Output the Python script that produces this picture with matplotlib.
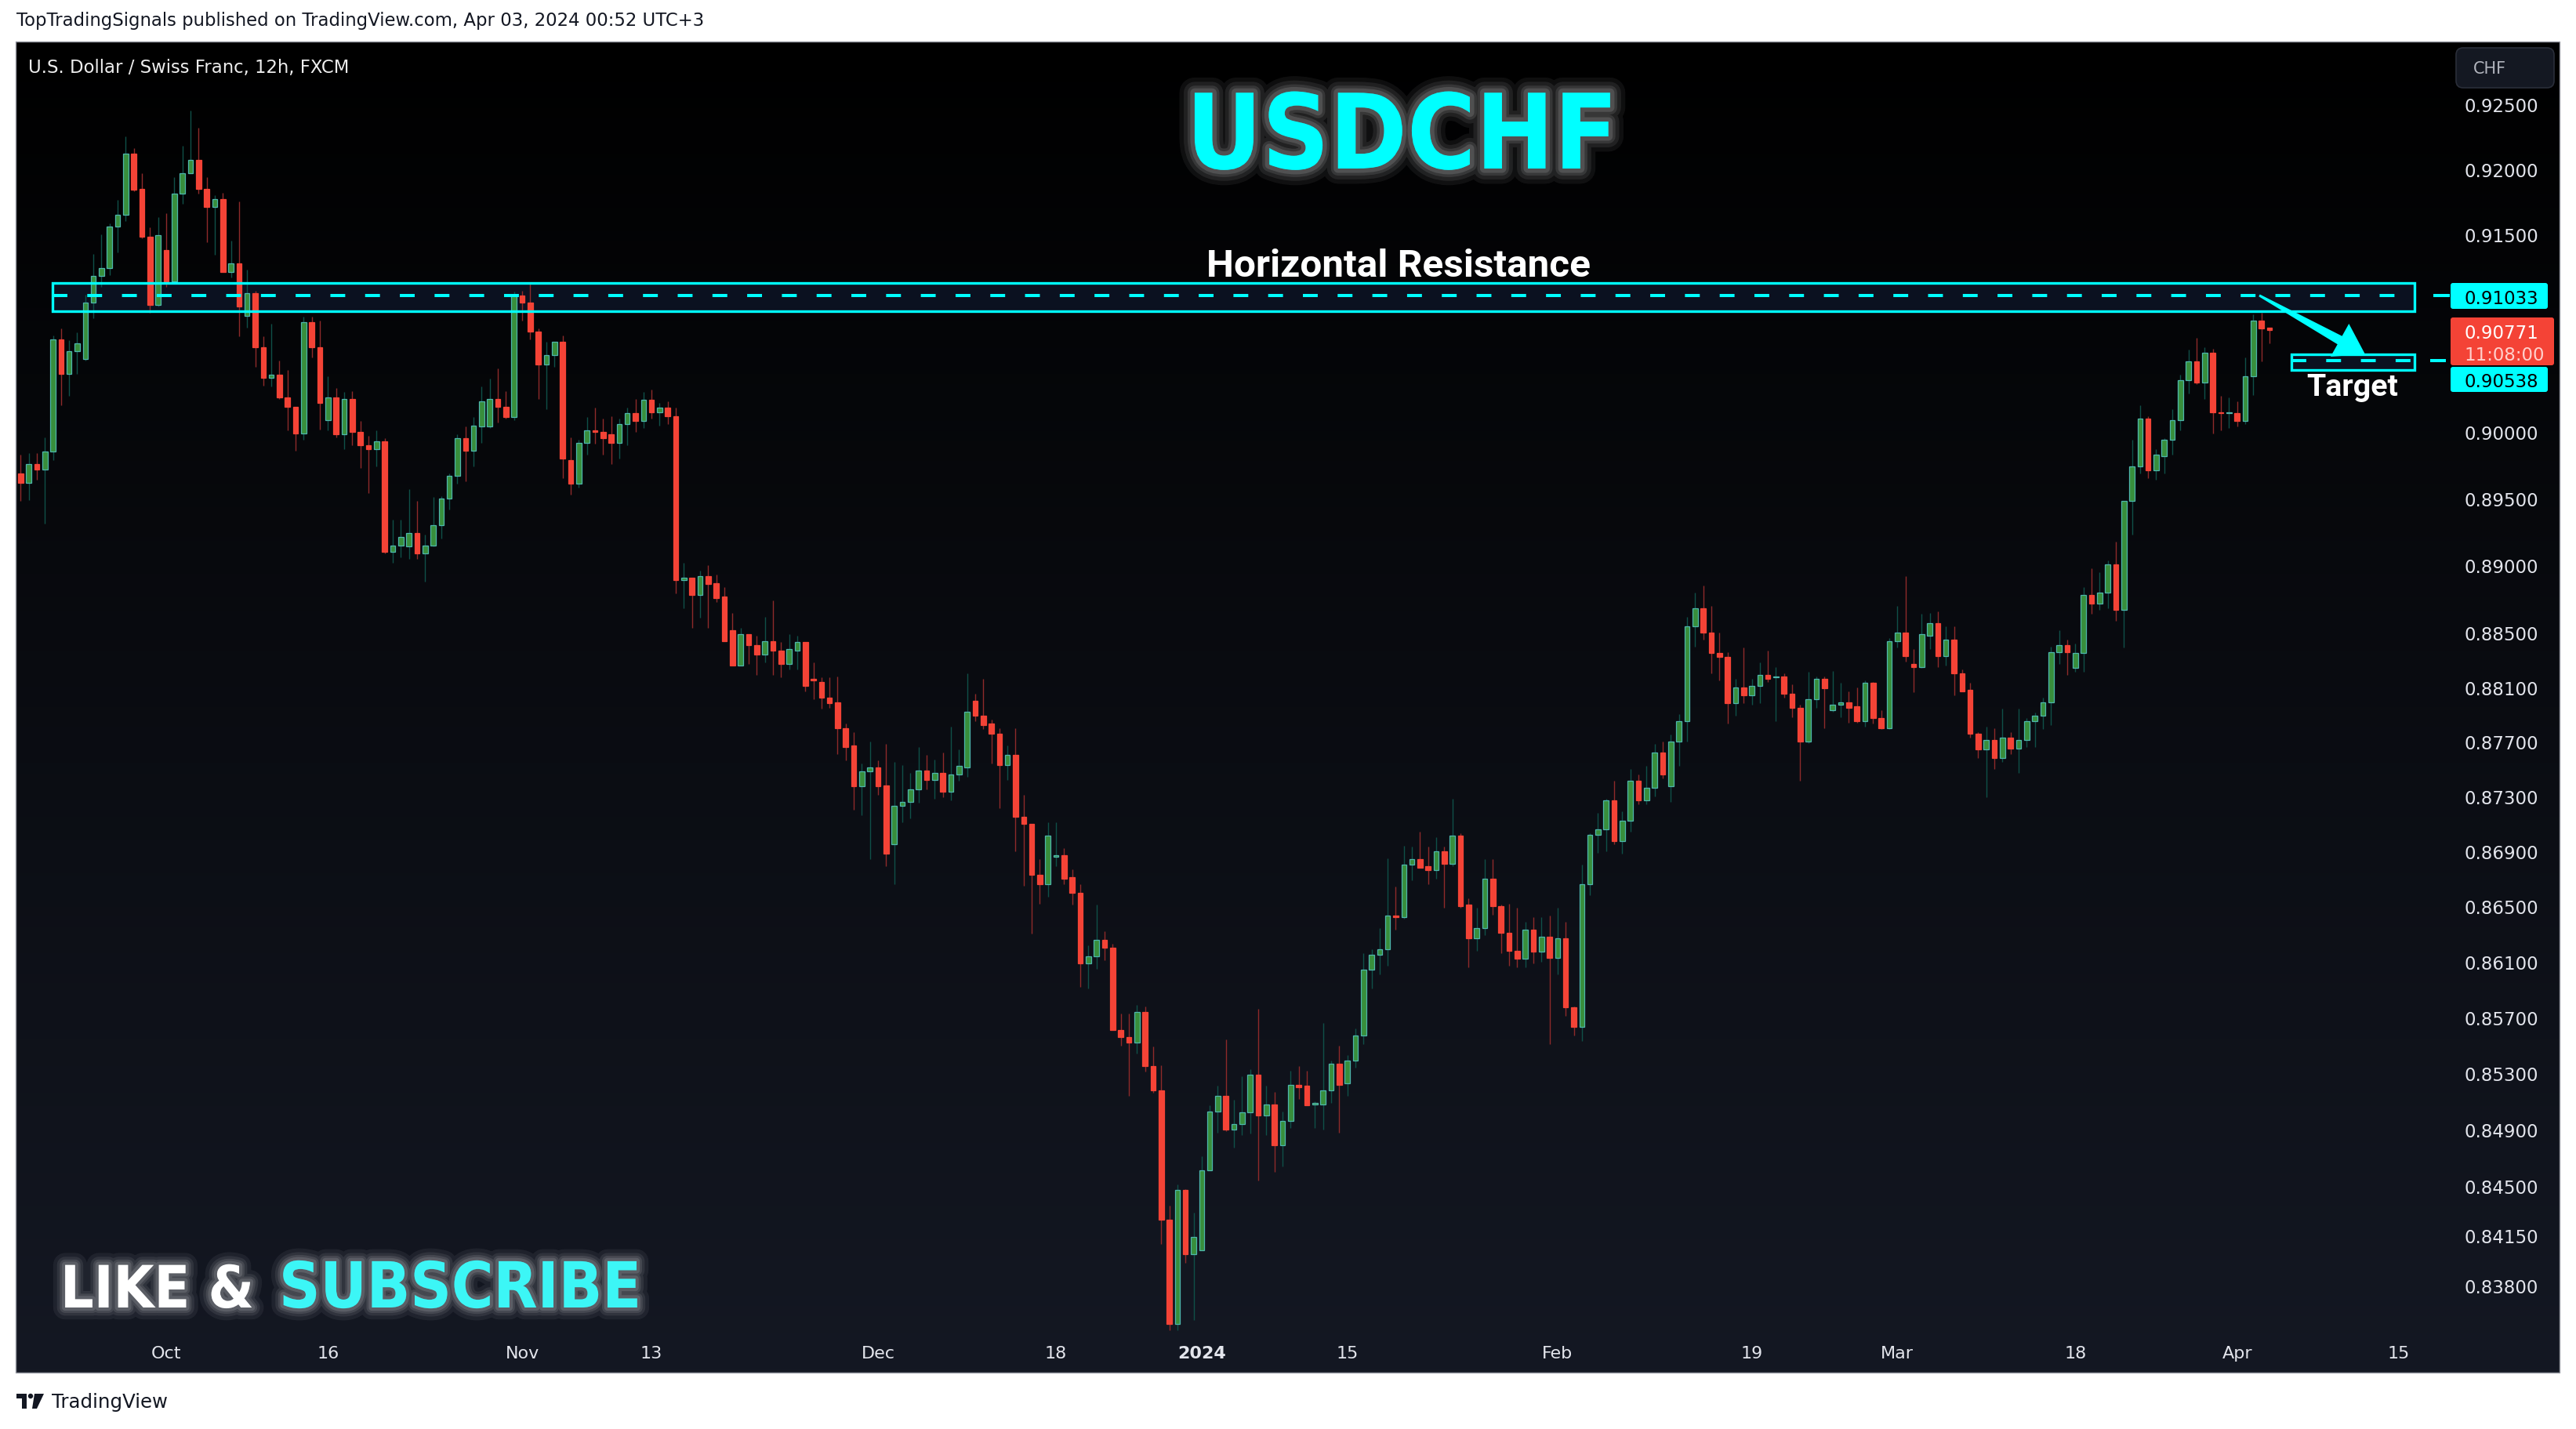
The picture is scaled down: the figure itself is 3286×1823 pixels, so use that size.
"""USDCHF 12h chart (TradingView style) with resistance zone, target and glow titles."""

import numpy as np
import pandas as pd
import matplotlib
matplotlib.use("Agg")
import matplotlib.pyplot as plt
import matplotlib.patheffects as pe
from matplotlib import font_manager
from matplotlib.font_manager import FontProperties
from matplotlib.patches import Rectangle, FancyBboxPatch, Polygon, Circle
from matplotlib.transforms import IdentityTransform, blended_transform_factory

W, H = 3286, 1824

# ── OHLC, 12h bars from 2023-09-19 to 2024-04-03 ──
opens = [
    .8969, .8962, .8976, .8972, .8985, .9070, .9044, .9061, .9055, .9098,
    .9118, .9124, .9156, .9165, .9212, .9185, .9148, .9096, .9138, .9114,
    .9181, .9197, .9207, .9185, .9171, .9177, .9121, .9128, .9088, .9105,
    .9064, .9041, .9043, .9026, .9019, .8999, .9083, .9064, .9009, .9026,
    .8998, .9025, .9000, .8990, .8987, .8993, .8910, .8915, .8914, .8924,
    .8909, .8915, .8930, .8950, .8967, .8995, .8986, .9004, .9004, .9025,
    .9019, .9011, .9103, .9098, .9076, .9051, .9058, .9068, .8979, .8961,
    .8992, .9001, .9000, .8998, .8992, .9006, .9014, .9008, .9024, .9015,
    .9018, .9012, .8889, .8891, .8878, .8892, .8887, .8877, .8852, .8826,
    .8849, .8841, .8834, .8844, .8837, .8827, .8837, .8843, .8816, .8814,
    .8802, .8799, .8780, .8767, .8737, .8748, .8751, .8738, .8695, .8723,
    .8726, .8735, .8749, .8742, .8747, .8733, .8746, .8751, .8800, .8789,
    .8783, .8776, .8753, .8760, .8715, .8710, .8673, .8666, .8686, .8687,
    .8671, .8660, .8609, .8614, .8626, .8620, .8561, .8556, .8552, .8574,
    .8535, .8518, .8426, .8353, .8447, .8402, .8405, .8461, .8503, .8514,
    .8490, .8494, .8502, .8529, .8500, .8508, .8479, .8496, .8522, .8521,
    .8508, .8508, .8518, .8537, .8523, .8539, .8557, .8604, .8615, .8619,
    .8643, .8642, .8680, .8684, .8679, .8676, .8690, .8681, .8701, .8651,
    .8627, .8634, .8670, .8650, .8631, .8618, .8612, .8633, .8617, .8628,
    .8613, .8627, .8577, .8563, .8666, .8702, .8706, .8727, .8697, .8712,
    .8741, .8727, .8736, .8762, .8737, .8770, .8785, .8855, .8868, .8850,
    .8835, .8832, .8798, .8810, .8804, .8811, .8819, .8817, .8818, .8805,
    .8795, .8770, .8801, .8816, .8793, .8797, .8799, .8796, .8785, .8813,
    .8787, .8780, .8844, .8850, .8827, .8825, .8848, .8857, .8833, .8845,
    .8820, .8808, .8776, .8764, .8771, .8758, .8773, .8765, .8771, .8785,
    .8789, .8799, .8836, .8841, .8824, .8835, .8878, .8872, .8880, .8901,
    .8867, .8948, .8974, .9010, .8971, .8982, .8994, .9009, .9039, .9053,
    .9037, .9060, .9015, .9014, .9014, .9008, .9042, .9084, .9079,
]
highs = [
    .8983, .8984, .8984, .8996, .9073, .9078, .9069, .9075, .9104, .9135,
    .9150, .9158, .9176, .9225, .9216, .9197, .9155, .9163, .9166, .9194,
    .9218, .9245, .9232, .9194, .9180, .9182, .9145, .9175, .9123, .9107,
    .9072, .9082, .9054, .9047, .9019, .9087, .9087, .9084, .9042, .9033,
    .9030, .9031, .9008, .8997, .9001, .8995, .8934, .8934, .8957, .8948,
    .8923, .8951, .8952, .8969, .8998, .9004, .9011, .9034, .9040, .9048,
    .9031, .9106, .9107, .9112, .9078, .9068, .9068, .9073, .8996, .8994,
    .9011, .9018, .9010, .9012, .9010, .9018, .9025, .9030, .9032, .9022,
    .9023, .9018, .8902, .8891, .8896, .8900, .8893, .8884, .8865, .8854,
    .8849, .8848, .8862, .8874, .8843, .8849, .8848, .8843, .8828, .8817,
    .8817, .8818, .8783, .8777, .8754, .8770, .8756, .8768, .8755, .8753,
    .8747, .8766, .8760, .8757, .8762, .8781, .8764, .8820, .8805, .8816,
    .8786, .8780, .8767, .8780, .8731, .8710, .8684, .8711, .8711, .8692,
    .8677, .8666, .8622, .8651, .8632, .8623, .8573, .8573, .8579, .8578,
    .8549, .8536, .8436, .8451, .8448, .8431, .8471, .8507, .8521, .8554,
    .8511, .8528, .8533, .8576, .8521, .8517, .8503, .8532, .8535, .8532,
    .8510, .8566, .8539, .8550, .8543, .8562, .8616, .8619, .8634, .8685,
    .8664, .8694, .8693, .8704, .8693, .8700, .8693, .8728, .8703, .8656,
    .8649, .8684, .8684, .8651, .8652, .8649, .8639, .8642, .8642, .8643,
    .8649, .8639, .8578, .8680, .8703, .8718, .8728, .8741, .8719, .8750,
    .8746, .8752, .8768, .8770, .8775, .8790, .8862, .8880, .8885, .8870,
    .8850, .8836, .8816, .8839, .8816, .8828, .8837, .8825, .8820, .8812,
    .8797, .8821, .8818, .8818, .8822, .8813, .8807, .8810, .8815, .8814,
    .8793, .8846, .8870, .8892, .8838, .8864, .8865, .8866, .8855, .8855,
    .8823, .8813, .8777, .8781, .8780, .8794, .8777, .8794, .8787, .8791,
    .8802, .8840, .8852, .8845, .8842, .8884, .8898, .8895, .8904, .8918,
    .8948, .8994, .9020, .9012, .8987, .8995, .9017, .9043, .9062, .9071,
    .9064, .9063, .9027, .9026, .9023, .9056, .9089, .9090, .9079,
]
lows = [
    .8948, .8949, .8964, .8931, .8979, .9020, .9027, .9044, .9054, .9086,
    .9110, .9119, .9136, .9160, .9183, .9147, .9090, .9095, .9110, .9113,
    .9173, .9197, .9181, .9144, .9134, .9121, .9117, .9072, .9079, .9049,
    .9035, .9034, .9025, .9001, .8986, .8994, .9056, .9002, .9001, .8996,
    .8987, .8990, .8973, .8954, .8974, .8909, .8902, .8906, .8905, .8905,
    .8888, .8914, .8920, .8942, .8961, .8963, .8974, .8992, .9003, .9007,
    .9010, .9009, .9084, .9070, .9025, .9017, .9049, .8965, .8953, .8958,
    .8983, .8991, .8983, .8976, .8980, .8990, .9000, .9003, .9010, .9005,
    .9006, .8879, .8868, .8854, .8861, .8854, .8873, .8844, .8826, .8826,
    .8827, .8819, .8828, .8819, .8817, .8823, .8823, .8807, .8801, .8794,
    .8795, .8761, .8756, .8720, .8716, .8684, .8731, .8679, .8666, .8711,
    .8714, .8725, .8735, .8728, .8729, .8727, .8741, .8744, .8785, .8779,
    .8754, .8721, .8742, .8690, .8665, .8630, .8652, .8657, .8679, .8666,
    .8651, .8592, .8591, .8605, .8611, .8561, .8550, .8514, .8544, .8531,
    .8516, .8409, .8349, .8349, .8396, .8356, .8405, .8461, .8488, .8489,
    .8477, .8486, .8487, .8454, .8486, .8460, .8464, .8491, .8512, .8507,
    .8491, .8490, .8509, .8488, .8514, .8534, .8551, .8591, .8601, .8607,
    .8633, .8641, .8669, .8678, .8666, .8670, .8649, .8679, .8649, .8606,
    .8618, .8629, .8644, .8616, .8607, .8606, .8606, .8609, .8610, .8551,
    .8601, .8571, .8557, .8553, .8658, .8689, .8690, .8695, .8688, .8704,
    .8724, .8724, .8730, .8743, .8726, .8752, .8770, .8840, .8845, .8820,
    .8815, .8783, .8789, .8798, .8797, .8798, .8814, .8785, .8802, .8788,
    .8741, .8769, .8795, .8780, .8792, .8788, .8784, .8784, .8781, .8783,
    .8779, .8779, .8839, .8829, .8806, .8824, .8838, .8825, .8826, .8804,
    .8807, .8773, .8758, .8729, .8750, .8755, .8761, .8747, .8766, .8766,
    .8779, .8782, .8827, .8819, .8821, .8821, .8864, .8867, .8868, .8859,
    .8839, .8923, .8969, .8965, .8964, .8969, .8983, .9001, .9029, .9036,
    .9025, .8999, .9001, .9003, .9004, .9006, .9028, .9053, .9067,
]
closes = [
    .8962, .8976, .8972, .8985, .9070, .9044, .9061, .9067, .9098, .9118,
    .9124, .9156, .9165, .9212, .9184, .9148, .9096, .9149, .9114, .9181,
    .9197, .9207, .9185, .9171, .9177, .9121, .9128, .9095, .9105, .9064,
    .9041, .9043, .9026, .9019, .8999, .9083, .9064, .9022, .9026, .8998,
    .9025, .9000, .8990, .8987, .8993, .8910, .8915, .8921, .8924, .8909,
    .8915, .8930, .8950, .8967, .8995, .8986, .9005, .9023, .9025, .9019,
    .9011, .9103, .9098, .9076, .9051, .9058, .9068, .8980, .8961, .8992,
    .9001, .9000, .8995, .8992, .9006, .9014, .9008, .9024, .9015, .9018,
    .9012, .8889, .8891, .8878, .8892, .8886, .8876, .8844, .8826, .8849,
    .8841, .8834, .8844, .8837, .8827, .8838, .8843, .8811, .8815, .8802,
    .8798, .8780, .8766, .8737, .8748, .8751, .8737, .8688, .8723, .8726,
    .8735, .8749, .8742, .8747, .8733, .8746, .8752, .8792, .8789, .8782,
    .8776, .8753, .8760, .8715, .8710, .8673, .8666, .8701, .8687, .8670,
    .8660, .8609, .8614, .8626, .8620, .8561, .8556, .8552, .8574, .8535,
    .8518, .8426, .8353, .8447, .8402, .8414, .8461, .8503, .8514, .8490,
    .8494, .8502, .8529, .8500, .8508, .8479, .8496, .8522, .8520, .8507,
    .8509, .8518, .8537, .8522, .8539, .8557, .8604, .8615, .8619, .8643,
    .8642, .8680, .8684, .8678, .8676, .8690, .8681, .8701, .8650, .8627,
    .8634, .8670, .8650, .8631, .8618, .8612, .8633, .8617, .8628, .8613,
    .8627, .8577, .8563, .8666, .8702, .8706, .8727, .8697, .8712, .8741,
    .8727, .8736, .8762, .8746, .8770, .8785, .8855, .8868, .8850, .8835,
    .8832, .8798, .8810, .8804, .8811, .8819, .8816, .8818, .8805, .8795,
    .8770, .8801, .8816, .8809, .8797, .8799, .8795, .8785, .8813, .8787,
    .8780, .8844, .8850, .8833, .8825, .8849, .8857, .8833, .8845, .8820,
    .8807, .8776, .8764, .8771, .8758, .8773, .8765, .8771, .8785, .8789,
    .8799, .8836, .8841, .8836, .8835, .8878, .8872, .8880, .8901, .8867,
    .8948, .8974, .9010, .8971, .8983, .8994, .9009, .9039, .9053, .9037,
    .9060, .9015, .9014, .9015, .9008, .9042, .9084, .9078, .90771,
]

RESISTANCE = 0.91033
RES_ZONE = (0.90913, 0.91130)
TARGET = 0.90538
TARGET_ZONE = (0.90467, 0.90586)
LAST_PRICE = 0.90771
COUNTDOWN = "11:08:00"

PRICE_TICKS = [0.925, 0.920, 0.915, 0.900, 0.895, 0.890, 0.885, 0.881, 0.877,
               0.873, 0.869, 0.865, 0.861, 0.857, 0.853, 0.849, 0.845, 0.8415, 0.838]
TICK_DATES = ["2023-10-02", "2023-10-16", "2023-11-01", "2023-11-13", "2023-12-01",
              "2023-12-18", "2024-01-02", "2024-01-15", "2024-02-01", "2024-02-19",
              "2024-03-01", "2024-03-18", "2024-04-01", "2024-04-15"]
TICK_LABELS = ["Oct", "16", "Nov", "13", "Dec", "18", "2024", "15", "Feb", "19",
               "Mar", "18", "Apr", "15"]

CYAN = "#00ffff"
UP_FACE, UP_EDGE, UP_WICK = "#388e3c", "#4db6ac", "#0f5048"
DN_FACE, DN_EDGE, DN_WICK = "#f44336", "#f44336", "#8e2a2a"
AXIS_TXT = "#e3e5ec"

plt.rcParams["font.family"] = "DejaVu Sans"


def narrow_bold_font():
    """Look for an installed narrow/condensed bold face, else plain Liberation Sans bold."""
    prefs = ["liberationsansnarrow-bold", "liberationsansnarrow_bold", "arialnarrow",
             "notosans-condensedbold", "dejavusanscondensed-bold", "robotocondensed-bold"]
    files = [f.fname for f in font_manager.fontManager.ttflist]
    for key in prefs:
        for fn in files:
            if key in fn.lower().replace(" ", ""):
                return FontProperties(fname=fn)
    for fn in files:
        low = fn.lower()
        if ("narrow" in low or "condensed" in low) and "bold" in low \
                and not any(k in low for k in ("italic", "oblique", "semi", "extra", "light")):
            return FontProperties(fname=fn)
    return FontProperties(family="Liberation Sans", weight="bold")


NARROW_FP = narrow_bold_font()

X0_PX, STEP_PX = 26.26, 10.319      # pixel x of bar 0 and bar spacing


def fx(px):
    return px / W


def fy(py):
    return 1 - py / H


def bar_x(px):
    return (px - X0_PX) / STEP_PX


# bar slots: two 12h bars per weekday, no bars on Dec 25 / Jan 1
days = pd.bdate_range("2023-09-19", "2024-04-19")
days = days[~days.isin(pd.to_datetime(["2023-12-25", "2024-01-01"]))]

o, h, l, c = (np.array(v) for v in (opens, highs, lows, closes))
x = np.arange(len(o))
up = c >= o

fig = plt.figure(figsize=(W / 100, H / 100), dpi=100)
fig.patch.set_facecolor("white")
renderer = fig.canvas.get_renderer()


def fit(t, width_px):
    w = t.get_window_extent(renderer=renderer).width
    t.set_fontsize(t.get_fontsize() * width_px / w)
    return t


# panel background: black at the top fading to dark navy
bg = fig.add_axes([fx(20), fy(1752), fx(3265) - fx(20), (1752 - 54) / H])
top_c = np.array([0, 0, 0]) / 255
bot_c = np.array([20, 24, 35]) / 255
grad = np.linspace(0, 1, 400)[:, None, None]
bg.imshow(top_c + grad * (bot_c - top_c), aspect="auto", extent=(0, 1, 0, 1))
bg.set_axis_off()

ax = fig.add_axes([fx(20), fy(1705), fx(3265) - fx(20), (1705 - 54) / H])
ax.patch.set_alpha(0)
ax.set_yscale("log")
ax.set_ylim(0.83449, 0.92986)
ax.set_xlim(bar_x(20), bar_x(3265))
ax.set_axis_off()

# candles
body_lo = np.minimum(o, c)
body_h = np.maximum(np.abs(c - o), 0.00005)
ax.vlines(x[up], l[up], h[up], color=UP_WICK, lw=1.0, zorder=2)
ax.vlines(x[~up], l[~up], h[~up], color=DN_WICK, lw=1.0, zorder=2)
ax.bar(x[up], body_h[up], bottom=body_lo[up], width=0.64, color=UP_FACE,
       edgecolor=UP_EDGE, linewidth=0.9, zorder=3)
ax.bar(x[~up], body_h[~up], bottom=body_lo[~up], width=0.64, color=DN_FACE,
       edgecolor=DN_EDGE, linewidth=0.9, zorder=3)

# resistance zone + target zone
zones = [(bar_x(67), bar_x(3080), RES_ZONE, RESISTANCE),
         (bar_x(2923), bar_x(3080), TARGET_ZONE, TARGET)]
for x0, x1, (lo, hi), lvl in zones:
    ax.add_patch(Rectangle((x0, lo), x1 - x0, hi - lo, facecolor="#0b1120",
                           edgecolor="none", zorder=1))
    ax.add_patch(Rectangle((x0, lo), x1 - x0, hi - lo, facecolor="none",
                           edgecolor=CYAN, lw=2.4, zorder=4))
    ax.plot([x0, x1], [lvl, lvl], color=CYAN, lw=2.9, ls=(0, (4.7, 6.3)), zorder=4)
ax.plot([bar_x(3104), bar_x(3125)], [RESISTANCE] * 2, color=CYAN, lw=2.9,
        solid_capstyle="butt", clip_on=False, zorder=4)
ax.plot([bar_x(3100), bar_x(3120)], [TARGET] * 2, color=CYAN, lw=2.9,
        solid_capstyle="butt", clip_on=False, zorder=4)

# arrow from the resistance line down to the target zone
p0 = ax.transData.transform((bar_x(2882), RESISTANCE))
p1 = ax.transData.transform((bar_x(3017), TARGET_ZONE[1]))
d = p1 - p0
u = d / np.hypot(*d)
n = np.array([-u[1], u[0]])
base = p1 - u * 37
pts = [p0 + n * 1.5, base + n * 6, base + n * 24, p1, base - n * 24, base - n * 6, p0 - n * 1.5]
ax.add_patch(Polygon(ax.transData.inverted().transform(pts), closed=True,
                     facecolor=CYAN, edgecolor="none", zorder=5))

# price scale
ptrans = blended_transform_factory(fig.transFigure, ax.transData)
for p in PRICE_TICKS:
    ax.text(fx(3238), p, f"{p:.5f}", transform=ptrans, ha="right", va="center_baseline",
            fontsize=16.5, color=AXIS_TXT, clip_on=False)

# time scale
ttrans = blended_transform_factory(ax.transData, fig.transFigure)
for d_str, lab in zip(TICK_DATES, TICK_LABELS):
    xi = 2 * days.get_loc(pd.Timestamp(d_str))
    ax.text(xi, fy(1727), lab, transform=ttrans, ha="center", va="center",
            fontsize=16, color=AXIS_TXT, fontweight="bold" if lab == "2024" else "normal",
            clip_on=False)


def px_box(x0, y0, x1, y1, fc, ec="none", r=4, lw=0.0):
    box = FancyBboxPatch((x0, H - y1), x1 - x0, y1 - y0,
                         boxstyle=f"round,pad=0,rounding_size={r}",
                         facecolor=fc, edgecolor=ec, lw=lw, transform=IdentityTransform())
    fig.add_artist(box)


# price labels on the scale
px_box(3126, 362, 3250, 395, CYAN, r=3)
fig.text(fx(3238), fy(379), f"{RESISTANCE:.5f}", ha="right", va="center_baseline",
         fontsize=16.5, color="black")
px_box(3126, 406, 3258, 467, "#f44336", r=3)
fig.text(fx(3238), fy(423), f"{LAST_PRICE:.5f}", ha="right", va="center_baseline",
         fontsize=16.5, color="white")
fig.text(fx(3246), fy(451), COUNTDOWN, ha="right", va="center_baseline",
         fontsize=16.5, color="#ffd0cc")
px_box(3126, 469, 3250, 501, CYAN, r=3)
fig.text(fx(3238), fy(485), f"{TARGET:.5f}", ha="right", va="center_baseline",
         fontsize=16.5, color="black")

# currency badge
px_box(3133, 62, 3258, 113, "#141822", ec="#2a2e39", r=9, lw=1.2)
fig.text(fx(3176), fy(88), "CHF", ha="center", va="center", fontsize=15, color="#b2b5be")

# headers
fit(fig.text(fx(21), fy(27), "TopTradingSignals published on TradingView.com, Apr 03, 2024 00:52 UTC+3",
             ha="left", va="center", fontsize=15, color="#131722"), 878)
fit(fig.text(fx(36), fy(87), "U.S. Dollar / Swiss Franc, 12h, FXCM",
             ha="left", va="center", fontsize=14, color="#eeeeee"), 410)


def glow(layers=((28, .06), (20, .08), (13, .10), (8, .13))):
    return [pe.Stroke(linewidth=w, foreground="white", alpha=a) for w, a in layers] + [pe.Normal()]


t = fig.text(fx(1513), fy(216), "USDCHF", ha="left", va="baseline", fontsize=110,
             fontproperties=NARROW_FP, color=CYAN, path_effects=glow())
t.set_fontsize(110)
fit(t, 551)

small_glow = ((22, .06), (15, .08), (10, .10), (6, .12))
t = fig.text(fx(77), fy(1669), "LIKE &", ha="left", va="baseline",
             fontproperties=NARROW_FP, color="white", path_effects=glow(small_glow))
t.set_fontsize(70)
fit(t, 247)
t = fig.text(fx(356), fy(1669), "SUBSCRIBE", ha="left", va="baseline",
             fontproperties=NARROW_FP, color="#3cf6f6", path_effects=glow(small_glow))
t.set_fontsize(70)
fit(t, 462)

fit(fig.text(fx(1784), fy(353), "Horizontal Resistance", ha="center", va="baseline",
             fontsize=30, family="Roboto", fontweight="bold", color="white"), 489)
fit(fig.text(fx(3001), fy(505), "Target", ha="center", va="baseline",
             fontsize=28, family="Roboto", fontweight="bold", color="white"), 117)

# panel border
fig.add_artist(Rectangle((20, H - 1752), 3245, 1698, facecolor="none", edgecolor="#9598a1",
                         lw=1.0, transform=IdentityTransform()))

# footer logo + wordmark
fig.add_artist(Rectangle((21, H - 1785), 13, 6, facecolor="#131722", transform=IdentityTransform()))
fig.add_artist(Rectangle((28, H - 1798), 6, 14, facecolor="#131722", transform=IdentityTransform()))
fig.add_artist(Circle((39, H - 1782), 3.2, facecolor="#131722", transform=IdentityTransform()))
fig.add_artist(Polygon([(44, H - 1779), (56, H - 1779), (47, H - 1798), (41, H - 1798)],
                       facecolor="#131722", transform=IdentityTransform()))
fit(fig.text(fx(66), fy(1789), "TradingView", ha="left", va="center", fontsize=16,
             color="#131722"), 148)

fig.savefig("out.png", dpi=100, facecolor="white")
